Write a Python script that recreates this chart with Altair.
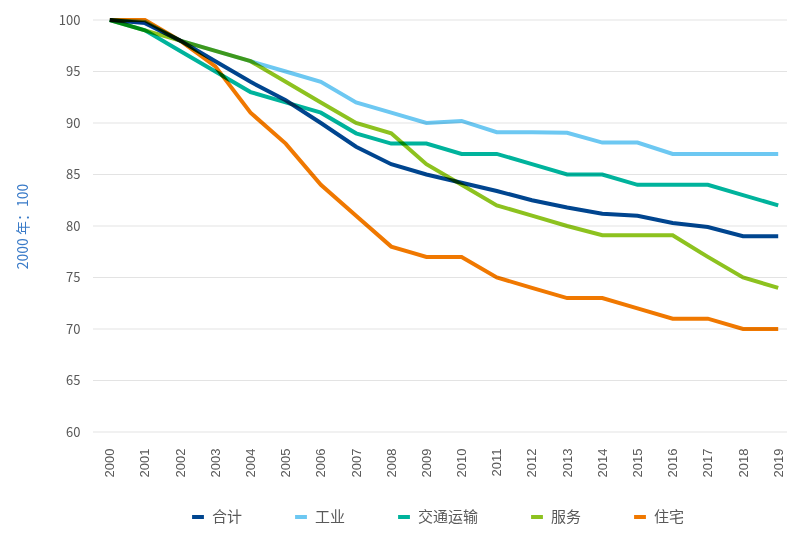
import altair as alt
import pandas as pd

years = [str(y) for y in range(2000, 2020)]
series_names = ["合计", "工业", "交通运输", "服务", "住宅"]
colors = ["#00458f", "#6dc8f2", "#00b39c", "#8dc21f", "#f07800"]
y_ticks = [60, 65, 70, 75, 80, 85, 90, 95, 100]

total = [100, 99.7, 98, 96, 94, 92.2, 90, 87.7, 86, 85, 84.2, 83.4, 82.5, 81.8, 81.2, 81, 80.3, 79.9, 79, 79]
industry = [100, 99.8, 98, 97, 96, 95, 94, 92, 91, 90, 90.2, 89.1, 89.1, 89.05, 88.1, 88.1, 87, 87, 87, 87]
transport = [100, 99, 97, 95, 93, 92, 91, 89, 88, 88, 87, 87, 86, 85, 85, 84, 84, 84, 83, 82]
services = [100, 99, 98, 97, 96, 94, 92, 90, 89, 86, 84, 82, 81, 80, 79.1, 79.1, 79.1, 77, 75, 74]
housing = [100, 100, 98, 95.5, 91, 88, 84, 81, 78, 77, 77, 75, 74, 73, 73, 72, 71, 71, 70, 70]

rows = []
for name, vals in zip(series_names, [total, industry, transport, services, housing]):
    for y, v in zip(years, vals):
        rows.append({"year": y, "value": v, "series": name, "order": series_names.index(name)})
df = pd.DataFrame(rows)
grid_df = pd.DataFrame({"value": y_ticks})

font = "Noto Sans CJK SC"
W, H = 686, 412

y_scale = alt.Scale(domain=[60, 100], nice=False, zero=False)

grid = alt.Chart(grid_df).mark_rule(color="#e3e3e3", strokeWidth=1).encode(
    y=alt.Y("value:Q", scale=y_scale),
    x=alt.value(-8),
    x2=alt.value(W + 10),
)

lines = alt.Chart(df).mark_line(strokeWidth=4, blend="multiply", clip=False).encode(
    x=alt.X("year:N", sort=years,
            scale=alt.Scale(type="point", padding=0.25),
            axis=alt.Axis(title=None, labelAngle=-90, labelPadding=16, ticks=False, domain=False,
                          labelColor="#595959", labelFontSize=13, labelFont="Liberation Sans", grid=False)),
    y=alt.Y("value:Q", scale=y_scale,
            axis=alt.Axis(title="2000 年：100", values=y_ticks, grid=False,
                          titleColor="#3a7bc8", titleFont=font, titleFontSize=14, titleFontWeight="normal",
                          titlePadding=28, labelColor="#595959", labelFontSize=13, labelFont=font,
                          labelPadding=21, ticks=False, domain=False)),
    color=alt.Color("series:N", scale=alt.Scale(domain=series_names, range=colors),
                    legend=alt.Legend(title=None, orient="none", direction="horizontal",
                                      legendX=89, legendY=489, symbolType="stroke",
                                      symbolStrokeWidth=4, symbolSize=140, columnPadding=44,
                                      labelFont=font, labelFontSize=15, labelColor="#595959",
                                      labelOffset=6)),
    order=alt.Order("order:Q"),
    detail="series:N",
)

chart = alt.layer(grid, lines).properties(
    width=W, height=H,
    autosize=alt.AutoSizeParams(type="none"),
    padding={"left": 93, "top": 12, "right": 0, "bottom": 95},
).configure_view(stroke=None)

chart.save("out.html", embed_options={"renderer": "svg", "actions": False})
